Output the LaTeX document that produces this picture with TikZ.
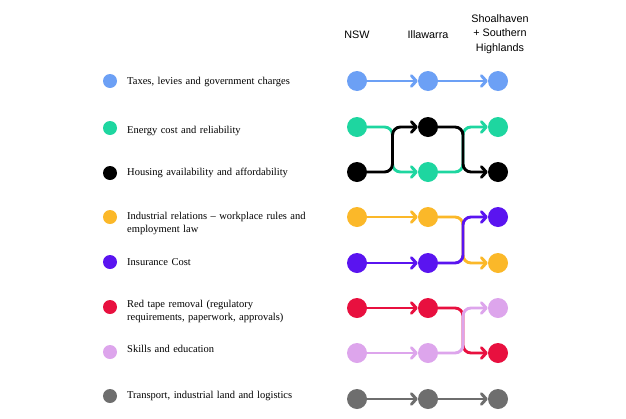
\documentclass[tikz,border=0pt]{standalone}
\usepackage{fontspec}
\setmainfont{Liberation Serif}
\newfontfamily\hdrfont{Liberation Sans}
\usetikzlibrary{arrows.meta}
\definecolor{cblue}{HTML}{6CA0F5}
\definecolor{cgreen}{HTML}{1ED6A0}
\definecolor{cblack}{HTML}{000000}
\definecolor{cyellow}{HTML}{FBB829}
\definecolor{cpurple}{HTML}{5A14F0}
\definecolor{cred}{HTML}{E8103F}
\definecolor{cpink}{HTML}{DDA5EC}
\definecolor{cgray}{HTML}{6E6E6E}
\tikzset{
  dot/.style={circle,fill=#1,draw=none,inner sep=0pt,minimum size=20pt},
  ldot/.style={circle,fill=#1,draw=none,inner sep=0pt,minimum size=14pt},
  flow/.style={draw=#1,line width=2.9pt,rounded corners=8pt,
    -{Straight Barb[length=5pt,width=10.5pt,line cap=round,line join=round]}},
  legtext/.style={anchor=base west,inner sep=0pt,text width=200pt,align=left,
    font=\fontsize{10.5}{12.5}\selectfont},
  hdr/.style={font=\hdrfont\fontsize{10.8}{14.5}\selectfont,align=center,inner sep=0pt}
}
\begin{document}
\begin{tikzpicture}[x=1pt,y=-1pt]
\useasboundingbox (0,0) rectangle (626,418);
% headers
\node[hdr] (hn) at (357,35) {NSW};
\node[hdr] (hi) at (428,35) {Illawarra};
\node[hdr] (hs) at (500,34) {Shoalhaven\\+ Southern\\Highlands};
% legend
\foreach \c/\y/\n in {cblue/81/l1,cgreen/128/l2,cblack/173/l3,cyellow/217/l4,cpurple/262/l5,cred/307/l6,cpink/352/l7,cgray/396/l8}
  \node[ldot=\c] (\n) at (110,\y) {};
\node[legtext] (t1) at (127,84.5) {Taxes, levies and government charges};
\node[legtext] (t2) at (127,133.5) {Energy cost and reliability};
\node[legtext] (t3) at (127,175.5) {Housing availability and affordability};
\node[legtext] (t4) at (127,219.5) {Industrial relations -- workplace rules and\\employment law};
\node[legtext] (t5) at (127,265.5) {Insurance Cost};
\node[legtext] (t6) at (127,307.5) {Red tape removal (regulatory\\requirements, paperwork, approvals)};
\node[legtext] (t7) at (127,352.5) {Skills and education};
\node[legtext] (t8) at (127,398.5) {Transport, industrial land and logistics};
% column x: 357, 428, 498 ; mid 392.5, 463
\coordinate (m1) at (392.5,0);
\coordinate (m2) at (463,0);
% row 1 taxes
\node[dot=cblue] (a1) at (357,81) {};
\node[dot=cblue] (a2) at (428,81) {};
\node[dot=cblue] (a3) at (498,81) {};
\draw[flow=cblue] (a1) -- (a2);
\draw[flow=cblue] (a2) -- (a3);
% energy / housing
\node[dot=cgreen] (e1) at (357,127) {};
\node[dot=cblack] (h1) at (357,172) {};
\node[dot=cblack] (h2) at (428,127) {};
\node[dot=cgreen] (e2) at (428,172) {};
\node[dot=cgreen] (e3) at (498,127) {};
\node[dot=cblack] (h3) at (498,172) {};
\draw[flow=cgreen] (e1.east) -- (m1 |- e1) -- (m1 |- e2) -- (e2.west);
\draw[flow=cgreen] (e2.east) -- (m2 |- e2) -- (m2 |- e3) -- (e3.west);
\draw[flow=cblack] (h1.east) -- (m1 |- h1) -- (m1 |- h2) -- (h2.west);
\draw[flow=cblack] (h2.east) -- (m2 |- h2) -- (m2 |- h3) -- (h3.west);
% industrial / insurance
\node[dot=cyellow] (i1) at (357,217) {};
\node[dot=cpurple] (p1) at (357,263) {};
\node[dot=cyellow] (i2) at (428,217) {};
\node[dot=cpurple] (p2) at (428,263) {};
\node[dot=cpurple] (p3) at (498,217) {};
\node[dot=cyellow] (i3) at (498,263) {};
\draw[flow=cyellow] (i1) -- (i2);
\draw[flow=cpurple] (p1) -- (p2);
\draw[flow=cyellow] (i2.east) -- (m2 |- i2) -- (m2 |- i3) -- (i3.west);
\draw[flow=cpurple] (p2.east) -- (m2 |- p2) -- (m2 |- p3) -- (p3.west);
% red tape / skills
\node[dot=cred] (r1) at (357,308) {};
\node[dot=cpink] (s1) at (357,353) {};
\node[dot=cred] (r2) at (428,308) {};
\node[dot=cpink] (s2) at (428,353) {};
\node[dot=cpink] (s3) at (498,308) {};
\node[dot=cred] (r3) at (498,353) {};
\draw[flow=cred] (r1) -- (r2);
\draw[flow=cpink] (s1) -- (s2);
\draw[flow=cred] (r2.east) -- (m2 |- r2) -- (m2 |- r3) -- (r3.west);
\draw[flow=cpink] (s2.east) -- (m2 |- s2) -- (m2 |- s3) -- (s3.west);
% transport
\node[dot=cgray] (g1) at (357,399) {};
\node[dot=cgray] (g2) at (428,399) {};
\node[dot=cgray] (g3) at (498,399) {};
\draw[flow=cgray] (g1) -- (g2);
\draw[flow=cgray] (g2) -- (g3);
\end{tikzpicture}
\end{document}
